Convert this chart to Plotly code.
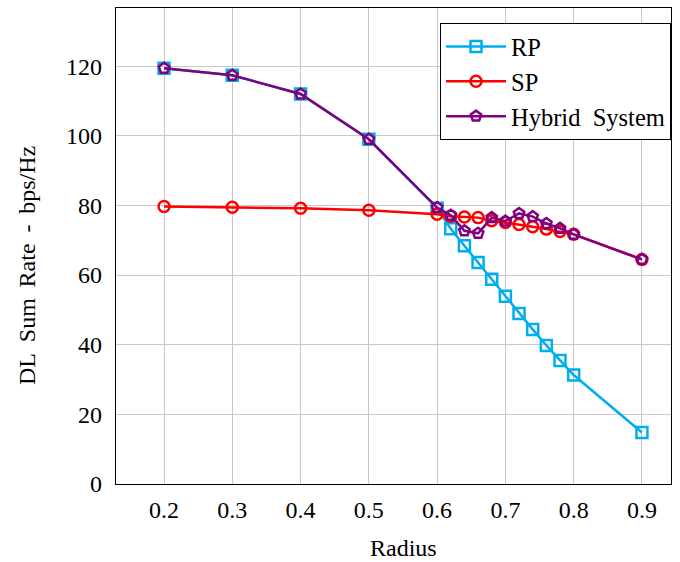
import plotly.graph_objects as go

radius = [0.2, 0.3, 0.4, 0.5, 0.6, 0.62, 0.64, 0.66, 0.68, 0.7, 0.72, 0.74, 0.76, 0.78, 0.8, 0.9]
rp = [119.4, 117.4, 112.0, 99.0, 79.2, 73.3, 68.4, 63.6, 58.8, 53.9, 49.0, 44.4, 39.8, 35.5, 31.3, 14.8]
sp = [79.7, 79.5, 79.2, 78.6, 77.5, 76.9, 76.7, 76.5, 75.6, 75.1, 74.5, 73.9, 73.2, 72.5, 71.7, 64.5]
hybrid = [119.4, 117.4, 112.0, 99.0, 79.4, 77.2, 72.7, 72.0, 76.5, 75.5, 77.7, 76.8, 74.8, 73.4, 71.7, 64.5]
x_ticks = [0.2, 0.3, 0.4, 0.5, 0.6, 0.7, 0.8, 0.9]
y_ticks = [0, 20, 40, 60, 80, 100, 120]

font = "Liberation Serif"
fig = go.Figure()
series = [
    ("RP", rp, "rgb(0,174,239)", "square-open"),
    ("SP", sp, "rgb(255,0,0)", "circle-open"),
    ("Hybrid\u2002System", hybrid, "rgb(128,0,128)", "pentagon-open"),
]
for name, ys, col, sym in series:
    fig.add_trace(go.Scatter(
        x=radius, y=ys, name=name, mode="lines+markers",
        line=dict(color=col, width=2.5),
        marker=dict(symbol=sym, size=11, color=col, line=dict(color=col, width=2.5)),
    ))

nb = "\u00a0\u2009"
L, R, T, B = 116, 9, 8, 78
pw, ph = 680 - L - R, 562 - T - B
fig.add_annotation(
    text=f"DL{nb}Sum{nb}Rate{nb}-{nb}bps/Hz", textangle=-90,
    xref="paper", yref="paper",
    x=(27 - L) / pw, y=(562 - B - 266) / ph,
    xanchor="center", yanchor="middle", showarrow=False,
    font=dict(family=font, size=24, color="black"),
)
fig.add_annotation(
    text="Radius",
    xref="paper", yref="paper",
    x=(403 - L) / pw, y=(562 - B - 548) / ph,
    xanchor="center", yanchor="middle", showarrow=False,
    font=dict(family=font, size=24, color="black"),
)
fig.update_layout(
    width=680, height=562,
    margin=dict(l=L, r=R, t=T, b=B, autoexpand=False),
    paper_bgcolor="white", plot_bgcolor="white",
    font=dict(family=font, size=24, color="black"),
    showlegend=True,
    legend=dict(
        x=1.0, y=1 - 15 / ph, xanchor="right", yanchor="top",
        bgcolor="white", bordercolor="black", borderwidth=1,
        font=dict(family=font, size=24.5), tracegroupgap=0, itemwidth=60,
    ),
    xaxis=dict(
        range=[0.1296, 0.9426], tickvals=x_ticks, ticktext=[f"{v:.1f}" for v in x_ticks],
        showgrid=True, gridcolor="rgb(200,200,200)", gridwidth=1,
        showline=True, linecolor="black", linewidth=1.2, mirror=True,
        ticks="", zeroline=False, automargin=False, ticklabelstandoff=4,
        tickfont=dict(family=font, size=24),
    ),
    yaxis=dict(
        range=[0, 136.7], tickvals=y_ticks,
        showgrid=True, gridcolor="rgb(200,200,200)", gridwidth=1,
        showline=True, linecolor="black", linewidth=1.2, mirror=True,
        ticks="", zeroline=False, ticklabelstandoff=8, automargin=False,
        tickfont=dict(family=font, size=24),
    ),
)
fig.write_html("out.html")
